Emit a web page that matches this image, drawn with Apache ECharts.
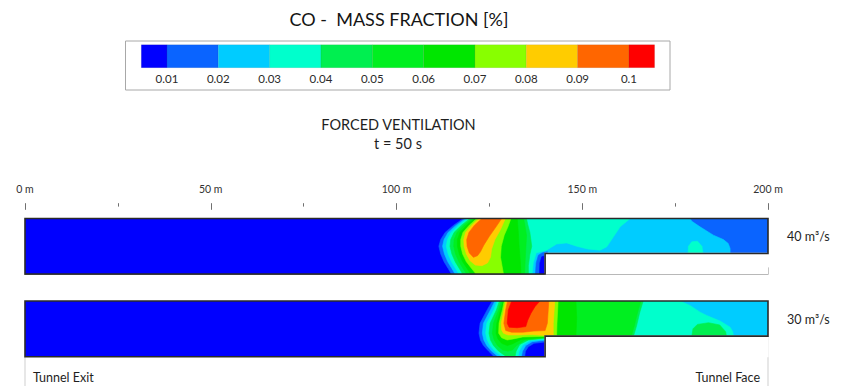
<!DOCTYPE html>
<html>
<head>
<meta charset="utf-8">
<script src="https://cdn.jsdelivr.net/npm/echarts@6/dist/echarts.min.js"></script>
<style>
  html, body { margin: 0; padding: 0; background: #fff; }
  #main { width: 843px; height: 386px; }
</style>
</head>
<body>
<div id="main"></div>
<script>
// CO mass fraction class limits [%] and the fill colour of each class (below 0.01 ... above 0.1)
const levelBreaks = [0.01, 0.02, 0.03, 0.04, 0.05, 0.06, 0.07, 0.08, 0.09, 0.1];
const levelLabels = ['0.01', '0.02', '0.03', '0.04', '0.05', '0.06', '0.07', '0.08', '0.09', '0.1'];
const levelColors = ['#0000ff', '#0a64ff', '#00ccff', '#00ffcc', '#00ef50', '#00ef20', '#00e600',
                     '#88ff00', '#ffcc00', '#ff6600', '#ff0000'];

// Distance along the tunnel [m]
const distanceRange = [0, 200];
const distanceStep = 50;

// Tunnel section: x in metres, y as a fraction of the full bore height (step at 140 m)
const tunnelOutline = [[0, 0], [140, 0], [140, 0.37], [200, 0.37], [200, 1], [0, 1]];
const stepCover = [[140, 0], [200, 0], [200, 0.37], [140, 0.37]];

// Contour bands, 40 m3/s: [class index, boundary]
const co40 = [
  [0, tunnelOutline],
  [1, [[118.0,1.0],[115.4,0.88],[113.1,0.75],[111.9,0.62],[111.4,0.5],[111.9,0.36],[112.8,0.22],[113.9,0.1],[114.8,0.0],[140,0],[140,0.37],[200,0.37],[200,1.0]]],
  [2, [[118.6,1.0],[116.1,0.88],[113.9,0.75],[112.8,0.62],[112.4,0.5],[112.9,0.36],[113.8,0.22],[114.9,0.1],[115.8,0.0],[140,0],[140,0.37],[189.8,0.37],[189.8,0.46],[189.3,0.55],[188.0,0.62],[185.3,0.70],[181.7,0.85],[179.5,0.95],[179.0,1.0]]],
  [3, [[119.2,1.0],[116.8,0.88],[114.7,0.75],[113.7,0.62],[113.4,0.5],[113.9,0.36],[114.8,0.22],[115.9,0.1],[116.8,0.0],[136.5,0],[136.8,0.2],[137.6,0.38],[140.4,0.43],[143.1,0.54],[145.8,0.56],[148.5,0.50],[151.5,0.45],[154.8,0.43],[156.6,0.49],[158.4,0.67],[160.2,0.85],[162.0,0.95],[162.9,1.0]]],
  [3, [[178.5,0.37],[178.6,0.5],[179.5,0.58],[181.0,0.59],[182.2,0.5],[182.5,0.37]]],
  [1, [[137.4,0],[137.6,0.2],[138.2,0.34],[139.2,0.38],[140.6,0.40],[140.6,0]]],
  [0, [[138.5,0],[138.6,0.2],[139.1,0.31],[140.6,0.34],[140.6,0]]],
  [4, [[119.8,1.0],[117.5,0.88],[115.5,0.75],[114.6,0.62],[114.4,0.5],[114.9,0.36],[115.8,0.22],[116.9,0.1],[117.8,0.0],[135.5,0],[135.5,0.15],[135.9,0.35],[136.4,0.5],[135.9,0.75],[135.3,0.9],[135.0,1.0]]],
  [5, [[120.4,1.0],[118.2,0.88],[116.3,0.75],[115.5,0.62],[115.4,0.5],[115.9,0.36],[116.8,0.22],[117.9,0.1],[118.9,0.0],[134.5,0],[134.6,0.2],[134.8,0.45],[135.0,0.7],[134.5,0.9],[134.2,1.0]]],
  [6, [[121.0,1.0],[118.9,0.88],[117.1,0.75],[116.4,0.62],[116.4,0.5],[116.9,0.36],[117.8,0.22],[119.0,0.1],[120.0,0.0],[133.5,0],[133.3,0.25],[133.0,0.5],[132.8,0.75],[132.5,1.0]]],
  [7, [[121.6,1.0],[119.6,0.88],[117.9,0.75],[117.3,0.62],[117.3,0.5],[117.8,0.36],[118.8,0.22],[120.2,0.1],[121.4,0.0],[128.8,0],[128.4,0.15],[128.0,0.3],[128.2,0.5],[129.0,0.7],[130.0,0.85],[130.8,1.0]]],
  [8, [[122.2,1.0],[120.3,0.88],[118.6,0.75],[118.1,0.62],[118.2,0.5],[118.8,0.36],[119.8,0.24],[121.2,0.16],[123.0,0.15],[124.5,0.2],[125.3,0.3],[125.6,0.45],[126.5,0.62],[128.0,0.8],[129.3,1.0]]],
  [9, [[123.0,1.0],[121.0,0.88],[119.5,0.75],[118.9,0.62],[119.0,0.5],[119.6,0.38],[120.7,0.30],[121.8,0.33],[122.6,0.40],[123.5,0.52],[125.0,0.68],[126.8,0.85],[128.3,1.0]]]
];

// Contour bands, 30 m3/s
const co30 = [
  [0, tunnelOutline],
  [1, [[125.8,1.0],[124.4,0.84],[122.5,0.6],[122.2,0.42],[122.6,0.3],[123.4,0.2],[124.8,0.1],[126.3,0.0],[134.5,0],[134.7,0.1],[135.5,0.18],[137.0,0.24],[140.6,0.27],[140.6,0.37],[200,0.37],[200,1.0]]],
  [2, [[126.5,1.0],[125.3,0.84],[123.4,0.6],[123.1,0.42],[123.5,0.3],[124.3,0.2],[125.6,0.1],[127.4,0.0],[133.6,0],[133.9,0.1],[134.8,0.2],[136.5,0.27],[140.6,0.30],[140.6,0.37],[200,0.37],[200,1.0]]],
  [3, [[127.1,1.0],[126.2,0.84],[124.3,0.6],[124.0,0.42],[124.4,0.3],[125.2,0.2],[126.5,0.1],[128.5,0.0],[132.7,0],[133.0,0.1],[134.0,0.21],[136.0,0.29],[140.6,0.32],[140.6,0.37],[190.7,0.37],[190.5,0.45],[189.8,0.53],[187.1,0.64],[183.5,0.74],[181.7,0.8],[179.0,0.92],[176.3,1.0]]],
  [4, [[127.7,1.0],[126.9,0.84],[125.2,0.6],[124.9,0.42],[125.3,0.3],[126.1,0.2],[127.5,0.1],[129.6,0.0],[131.9,0.0],[132.2,0.1],[133.2,0.22],[135.5,0.30],[140.6,0.335],[140.6,0.37],[163.8,0.37],[164.6,0.55],[165.5,0.8],[166.4,1.0]]],
  [4, [[179.5,0.37],[179.8,0.5],[181.0,0.58],[184.0,0.61],[187.0,0.57],[188.6,0.45],[188.8,0.37]]],
  [5, [[128.2,1.0],[127.5,0.84],[126.1,0.6],[125.8,0.42],[126.3,0.3],[127.2,0.2],[128.6,0.12],[130.0,0.10],[131.2,0.12],[132.3,0.2],[134.5,0.3],[140.6,0.345],[140.6,0.37],[163.2,0.37],[164.0,0.55],[164.9,0.8],[165.8,1.0]]],
  [6, [[128.7,1.0],[128.0,0.84],[127.0,0.6],[126.8,0.42],[127.3,0.32],[128.3,0.24],[129.8,0.2],[131.2,0.23],[133.5,0.31],[140.6,0.355],[140.6,0.37],[148.3,0.37],[148.5,0.7],[148.3,1.0]]],
  [7, [[129.0,1.0],[128.5,0.84],[127.6,0.6],[127.5,0.42],[128.3,0.34],[129.8,0.3],[131.5,0.32],[134.0,0.355],[140.6,0.365],[143.1,0.37],[143.2,0.6],[143.5,1.0]]],
  [8, [[129.4,1.0],[128.9,0.84],[128.2,0.6],[128.3,0.48],[128.8,0.42],[130.0,0.39],[133.0,0.39],[136.5,0.40],[139.0,0.385],[142.2,0.37],[142.2,0.6],[142.4,0.8],[142.6,1.0]]],
  [9, [[129.9,1.0],[129.4,0.84],[128.9,0.6],[129.4,0.47],[131.0,0.44],[134.0,0.44],[137.0,0.46],[140.0,0.47],[140.6,0.6],[140.8,0.8],[141.0,1.0]]],
  [10, [[131.0,1.0],[130.1,0.84],[129.8,0.6],[130.3,0.53],[132.5,0.52],[134.8,0.54],[135.3,0.65],[136.2,0.78],[137.3,0.9],[138.6,1.0]]]
];

const FONT = 'Lato, "Open Sans", sans-serif';
const TEXT = '#1e1e1e';

const chart = echarts.init(document.getElementById('main'), null, { renderer: 'svg' });

function contourRenderer(bands) {
  return function (params, api) {
    const band = bands[params.dataIndex];
    const col = levelColors[band[0]];
    return {
      type: 'polygon',
      shape: { points: band[1].map(function (pt) { return api.coord(pt); }) },
      style: { fill: col, stroke: col, lineWidth: 0.6 }
    };
  };
}

function frameRenderer(withWalls) {
  return function (params, api) {
    const children = [
      { type: 'polygon', shape: { points: stepCover.map(function (pt) { return api.coord(pt); }) },
        style: { fill: '#fff', stroke: '#fff', lineWidth: 1.2 } },
      { type: 'polygon', shape: { points: tunnelOutline.map(function (pt) { return api.coord(pt); }) },
        style: { fill: 'none', stroke: '#2a2a2a', lineWidth: 1.6 } }
    ];
    if (withWalls) {
      const a = api.coord([0, 0]);
      const b = api.coord([200, 0.37]);
      const h = api.getHeight();
      children.unshift(
        { type: 'line', shape: { x1: a[0], y1: a[1], x2: a[0], y2: h }, style: { stroke: '#cfcfcf', lineWidth: 1 } },
        { type: 'line', shape: { x1: b[0], y1: b[1], x2: b[0], y2: h }, style: { stroke: '#cfcfcf', lineWidth: 1 } }
      );
    }
    return { type: 'group', children: children };
  };
}

const halfStep = (levelBreaks[1] - levelBreaks[0]) / 2;
const legendEdges = [levelBreaks[0] - halfStep].concat(levelBreaks, [levelBreaks[levelBreaks.length - 1] + halfStep]);

const hiddenY = function (gi) { return { gridIndex: gi, type: 'value', min: 0, max: 1, show: false }; };

chart.setOption({
  animation: false,
  backgroundColor: '#fff',
  grid: [
    { left: 25, top: 218.5, width: 743, height: 55.5 },
    { left: 25, top: 301, width: 743, height: 55.7 },
    { left: 141.3, top: 44.7, width: 513.3, height: 23 }
  ],
  xAxis: [
    {
      gridIndex: 0, type: 'value', min: distanceRange[0], max: distanceRange[1], interval: distanceStep,
      position: 'top', offset: 15.3,
      axisLine: { show: true, lineStyle: { color: '#707070', width: 1 } },
      axisTick: { show: true, length: 6.6, lineStyle: { color: '#707070', width: 1 } },
      minorTick: { show: true, splitNumber: 2, length: 3.4, lineStyle: { color: '#707070', width: 1 } },
      axisLabel: { formatter: '{value} m', fontSize: 10.5, color: '#333', fontFamily: FONT, margin: 9 },
      splitLine: { show: false }
    },
    {
      gridIndex: 0, type: 'value', min: distanceRange[0], max: distanceRange[1], interval: distanceStep,
      position: 'top', offset: 15.3,
      axisLine: { show: false },
      axisTick: { show: true, inside: true, length: 6.6, lineStyle: { color: '#707070', width: 1 } },
      minorTick: { show: true, splitNumber: 2, length: 3.4, lineStyle: { color: '#707070', width: 1 } },
      axisLabel: { show: false },
      splitLine: { show: false }
    },
    { gridIndex: 1, type: 'value', min: distanceRange[0], max: distanceRange[1], show: false },
    { gridIndex: 2, type: 'value', min: legendEdges[0], max: legendEdges[legendEdges.length - 1], show: false }
  ],
  yAxis: [hiddenY(0), hiddenY(1), hiddenY(2)],
  graphic: [
    { type: 'rect', z: -10, shape: { x: 125.5, y: 41, width: 544.5, height: 49 },
      style: { fill: '#fff', stroke: '#a8a8a8', lineWidth: 1 } },
    { type: 'text', x: 399, y: 18.5,
      style: { text: 'CO -  MASS FRACTION [%]', fill: '#141414', fontSize: 18, fontFamily: FONT, align: 'center', verticalAlign: 'middle' } },
    { type: 'text', x: 398.5, y: 124,
      style: { text: 'FORCED VENTILATION', fill: TEXT, fontSize: 14.5, fontFamily: FONT, align: 'center', verticalAlign: 'middle' } },
    { type: 'text', x: 398, y: 143,
      style: { text: 't = 50 s', fill: TEXT, fontSize: 14.5, fontFamily: FONT, align: 'center', verticalAlign: 'middle' } },
    { type: 'text', x: 787, y: 236,
      style: { text: '40 m³/s', fill: TEXT, fontSize: 12.5, fontFamily: FONT, align: 'left', verticalAlign: 'middle' } },
    { type: 'text', x: 787, y: 319,
      style: { text: '30 m³/s', fill: TEXT, fontSize: 12.5, fontFamily: FONT, align: 'left', verticalAlign: 'middle' } },
    { type: 'text', x: 33, y: 377,
      style: { text: 'Tunnel Exit', fill: TEXT, fontSize: 12.5, fontFamily: FONT, align: 'left', verticalAlign: 'middle' } },
    { type: 'text', x: 760, y: 377,
      style: { text: 'Tunnel Face', fill: TEXT, fontSize: 12.5, fontFamily: FONT, align: 'right', verticalAlign: 'middle' } }
  ],
  series: [
    { type: 'custom', name: '40 m³/s', xAxisIndex: 0, yAxisIndex: 0, clip: true, z: 2,
      data: co40.map(function (b) { return b[0]; }), renderItem: contourRenderer(co40) },
    { type: 'custom', xAxisIndex: 0, yAxisIndex: 0, clip: false, z: 3,
      data: [0], renderItem: frameRenderer(false) },
    { type: 'custom', name: '30 m³/s', xAxisIndex: 2, yAxisIndex: 1, clip: true, z: 2,
      data: co30.map(function (b) { return b[0]; }), renderItem: contourRenderer(co30) },
    { type: 'custom', xAxisIndex: 2, yAxisIndex: 1, clip: false, z: 3,
      data: [0], renderItem: frameRenderer(true) },
    { type: 'custom', name: 'scale', xAxisIndex: 3, yAxisIndex: 2, clip: false, z: 2,
      data: levelColors.map(function (c, i) { return [legendEdges[i], legendEdges[i + 1]]; }),
      renderItem: function (params, api) {
        const p0 = api.coord([api.value(0), 1]);
        const p1 = api.coord([api.value(1), 0]);
        return { type: 'rect', shape: { x: p0[0], y: p0[1], width: p1[0] - p0[0], height: p1[1] - p0[1] },
                 style: { fill: levelColors[params.dataIndex], stroke: 'rgba(0,0,0,0.12)', lineWidth: 0.6 } };
      } },
    { type: 'custom', xAxisIndex: 3, yAxisIndex: 2, clip: false, z: 2,
      data: levelBreaks,
      renderItem: function (params, api) {
        const p = api.coord([api.value(0), 0]);
        return { type: 'text', x: p[0], y: p[1] + 10.5,
                 style: { text: levelLabels[params.dataIndex], fill: '#2a2a2a', fontSize: 11.5, fontFamily: FONT,
                          align: 'center', verticalAlign: 'middle' } };
      } }
  ]
});
</script>
</body>
</html>
